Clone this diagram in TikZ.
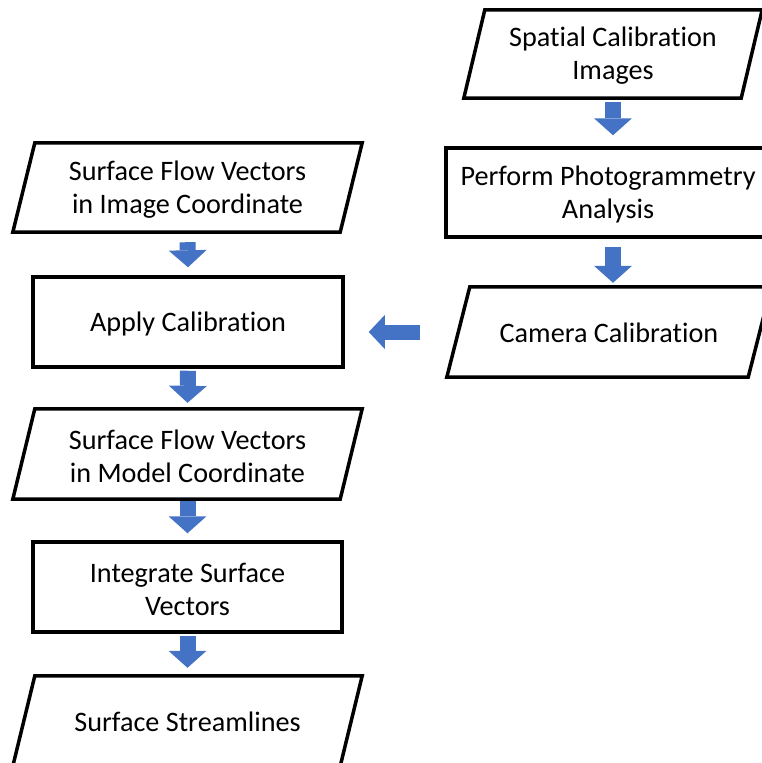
\documentclass[tikz,border=0pt]{standalone}
\usepackage{fontspec}
\setmainfont{Carlito}[Ligatures=NoCommon]
\usetikzlibrary{arrows.meta}
\definecolor{flowblue}{HTML}{4472C4}
% outline of a slanted input/output box around a named node
\newcommand\ioframe[2]{%
  \draw[frame] ([xshift=-#2]#1.south west) -- ([xshift=#2]#1.north west)
    -- ([xshift=#2]#1.north east) -- ([xshift=-#2]#1.south east) -- cycle;}
\begin{document}
\begin{tikzpicture}[x=1pt,y=-1pt,
  label text/.style={align=center, inner sep=0pt, font=\fontsize{28.2}{33}\selectfont},
  frame/.style={draw=black, line width=3.5pt, line join=miter},
  procbox/.style={rectangle, frame, inner sep=0pt, minimum width=#1, minimum height=90pt},
  iobox/.style={rectangle, inner sep=0pt, minimum width=#1, minimum height=90pt},
  blockarrow/.style={draw=flowblue, line width=16pt,
    -{Triangle[width=38pt,length=17pt,line width=0pt]}},
  sidearrow/.style={draw=flowblue, line width=15pt,
    -{Triangle[width=34pt,length=16pt,line width=0pt]}}]
\useasboundingbox (0,0) rectangle (761,763);

% right column
\node[iobox=277pt, minimum height=88pt] (spatial) at (613,54) {};
\ioframe{spatial}{10.5pt}
\node[label text] (spatialtext) at ([yshift=-2pt]spatial.center) {Spatial Calibration\\Images};
\node[procbox=324pt, minimum height=89pt] (photo) at (608,192.5) {};
\node[label text] (phototext) at ([yshift=-2pt]photo.center) {Perform Photogrammetry\\Analysis};
\node[iobox=301pt] (camera) at (609,332) {};
\ioframe{camera}{11.5pt}
\node[label text] (cameratext) at ([yshift=-1pt]camera.center) {Camera Calibration};

% left column
\node[iobox=327pt, minimum height=89pt] (flowimg) at (187.5,187.5) {};
\ioframe{flowimg}{11pt}
\node[label text] (flowimgtext) at ([yshift=-2pt]flowimg.center) {Surface Flow Vectors\\in Image Coordinate};
\node[procbox=310pt] (apply) at (188,322) {};
\node[label text] (applytext) at ([yshift=-2pt]apply.center) {Apply Calibration};
\node[iobox=327pt] (flowmodel) at (187.5,454) {};
\ioframe{flowmodel}{11pt}
\node[label text] (flowmodeltext) at ([yshift=-2pt]flowmodel.center) {Surface Flow Vectors\\in Model Coordinate};
\node[procbox=309pt] (integrate) at (187.5,587) {};
\node[label text] (integratetext) at ([yshift=-2pt]integrate.center) {Integrate Surface\\Vectors};
\node[iobox=327pt] (stream) at (187.5,721) {};
\ioframe{stream}{11pt}
\node[label text] (streamtext) at ([yshift=-1pt]stream.center) {Surface Streamlines};

% block arrows
\draw[blockarrow] ([yshift=-4pt]spatial.south) -- ([yshift=11pt]spatial.south |- photo.north);
\draw[blockarrow] ([yshift=-8pt]spatial.south |- photo.south) -- ([yshift=4pt]spatial.south |- camera.north);
\draw[sidearrow] ([xshift=-38pt]camera.west) -- ([xshift=24pt]apply.east |- camera.west);
\draw[blockarrow] ([yshift=-10pt]flowimg.south) -- ([yshift=8pt]apply.north);
\draw[blockarrow] ([yshift=-2pt]apply.south) -- ([yshift=6pt]flowmodel.north);
\draw[blockarrow] ([yshift=-2pt]flowmodel.south) -- ([yshift=7pt]integrate.north);
\draw[blockarrow] ([yshift=-2pt]integrate.south) -- ([yshift=8pt]stream.north);
\end{tikzpicture}
\end{document}
